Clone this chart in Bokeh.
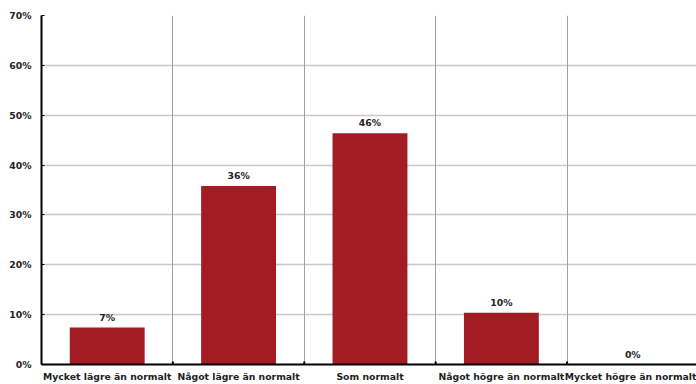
from bokeh.plotting import figure
from bokeh.models import ColumnDataSource, FixedTicker, Range1d, Grid, LabelSet
from bokeh.core.properties import value
from bokeh.embed import file_html
from bokeh.resources import INLINE

# Survey answers and their shares (%)
categories = [
    "Mycket lägre än normalt",
    "Något lägre än normalt",
    "Som normalt",
    "Något högre än normalt",
    "Mycket högre än normalt",
]
shares = [7.4, 35.8, 46.4, 10.4, 0.0]
y_ticks = [0, 10, 20, 30, 40, 50, 60, 70]

FONT = "DejaVu Sans"
FONT_SIZE = "9.3px"
TEXT_COLOR = "#222222"
BAR_COLOR = "#a31c24"

centers = [i + 0.5 for i in range(len(categories))]
source = ColumnDataSource(dict(
    x=centers,
    top=shares,
    label=[f"{round(v):.0f}%" for v in shares],
))

p = figure(
    width=696, height=384,
    x_range=Range1d(0, 4.985), y_range=Range1d(0, 70),
    output_backend="svg", toolbar_location=None,
    min_border_left=41, min_border_right=0,
    min_border_top=15, min_border_bottom=19,
)
p.outline_line_color = None
p.background_fill_color = "white"

p.vbar(x="x", top="top", width=0.57, source=source,
       fill_color=BAR_COLOR, line_color=None)

labels = LabelSet(x="x", y="top", text="label", source=source,
                  text_align="center", text_baseline="bottom", y_offset=5,
                  text_font=value(FONT), text_font_style="bold",
                  text_font_size=FONT_SIZE, text_color=TEXT_COLOR)
p.add_layout(labels)

# y axis in percent
p.yaxis.ticker = FixedTicker(ticks=y_ticks)
p.yaxis.major_label_overrides = {t: f"{t}%" for t in y_ticks}
p.yaxis.axis_line_width = 2
p.yaxis.axis_line_color = "black"
p.yaxis.major_tick_in = 3
p.yaxis.major_tick_out = 0
p.yaxis.minor_tick_line_color = None
p.yaxis.major_label_standoff = 10
p.yaxis.major_label_text_font = FONT
p.yaxis.major_label_text_font_style = "bold"
p.yaxis.major_label_text_font_size = FONT_SIZE
p.yaxis.major_label_text_color = TEXT_COLOR

# x axis: category names centred in each band
p.xaxis.ticker = FixedTicker(ticks=centers)
p.xaxis.major_label_overrides = {c: n for c, n in zip(centers, categories)}
p.xaxis.axis_line_width = 2
p.xaxis.axis_line_color = "black"
p.xaxis.major_tick_line_color = None
p.xaxis.major_tick_in = 0
p.xaxis.major_tick_out = 0
p.xaxis.minor_tick_line_color = None
p.xaxis.major_label_standoff = 6
p.xaxis.major_label_text_font = FONT
p.xaxis.major_label_text_font_style = "bold"
p.xaxis.major_label_text_font_size = FONT_SIZE
p.xaxis.major_label_text_color = TEXT_COLOR

# horizontal grid lines
p.ygrid.ticker = FixedTicker(ticks=y_ticks[1:])
p.ygrid.grid_line_color = "#c8c8c8"
p.ygrid.grid_line_width = 1.5

# vertical separators between categories
boundaries = list(range(1, len(categories)))
p.xgrid.visible = False
p.add_layout(Grid(dimension=0, ticker=FixedTicker(ticks=boundaries),
                  grid_line_color="#a0a0a0", grid_line_width=1))

# small tick marks on the baseline at each separator
p.segment(x0=boundaries, y0=[0] * len(boundaries), x1=boundaries,
          y1=[0.6] * len(boundaries), line_color="black", line_width=2)

open("out.html", "w").write(file_html(p, INLINE))
